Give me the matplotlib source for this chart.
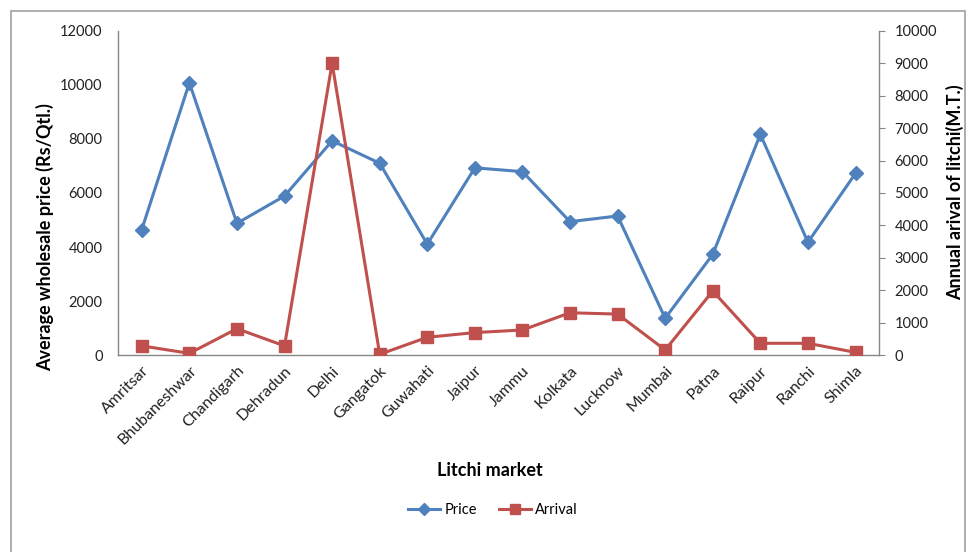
import matplotlib.pyplot as plt
from matplotlib.lines import Line2D
from matplotlib.patches import Rectangle

markets = ["Amritsar", "Bhubaneshwar", "Chandigarh", "Dehradun", "Delhi",
           "Gangatok", "Guwahati", "Jaipur", "Jammu", "Kolkata", "Lucknow",
           "Mumbai", "Patna", "Raipur", "Ranchi", "Shimla"]
price = [4650, 10075, 4880, 5890, 7930, 7100, 4110, 6930,
         6790, 4940, 5150, 1370, 3730, 8170, 4180, 6725]
arrival = [290, 60, 820, 290, 9000, 30, 555, 700,
           780, 1310, 1270, 165, 1980, 370, 370, 90]

left_ticks = [0, 2000, 4000, 6000, 8000, 10000, 12000]
right_ticks = [0, 1000, 2000, 3000, 4000, 5000, 6000, 7000, 8000, 9000, 10000]

BLUE = "#4F81BD"
RED = "#C0504D"
AXIS_GREY = "#868686"

plt.rcParams["font.family"] = ["Lato", "DejaVu Sans"]

W, H = 972, 552
fig = plt.figure(figsize=(W / 100, H / 100), dpi=100)

# outer chart border
fig.patches.append(Rectangle((11 / W, -0.01), (965 - 11) / W, 1 - 11 / H + 0.01,
                             transform=fig.transFigure, fill=False,
                             edgecolor="#A0A0A0", linewidth=1.2))

ax = fig.add_axes([118 / W, 1 - 355.3 / H, (879.3 - 118) / W, (355.3 - 30.7) / H])
ax2 = ax.twinx()

x = range(len(markets))
ax.plot(x, price, color=BLUE, lw=2.2, marker="D", ms=7.5, zorder=3)
ax2.plot(x, arrival, color=RED, lw=2.2, marker="s", ms=8, zorder=3)

ax.set_xlim(-0.5, len(markets) - 0.5)
ax.set_ylim(0, 12000)
ax2.set_ylim(0, 10000)
ax.set_yticks(left_ticks)
ax2.set_yticks(right_ticks)
ax.set_xticks(list(x))
ax.set_xticklabels(markets, rotation=45, ha="right", rotation_mode="anchor",
                   fontsize=11.5, color="#222222")

for a in (ax, ax2):
    for s in a.spines.values():
        s.set_color(AXIS_GREY)
        s.set_linewidth(1)
    a.spines["top"].set_visible(False)
ax.spines["right"].set_visible(False)
ax2.spines["left"].set_visible(False)
ax2.spines["bottom"].set_visible(False)

ax.tick_params(axis="y", length=0, labelsize=10.5, labelcolor="#222222", pad=11)
ax2.tick_params(axis="y", direction="out", length=4, color=AXIS_GREY,
                labelsize=10.5, labelcolor="#222222", pad=7)
ax.tick_params(axis="x", length=0, pad=6)

fig.text(45 / W, 1 - 237 / H, "Average wholesale price (Rs/Qtl.)", rotation=90,
         ha="center", va="center", fontsize=13, fontweight="bold")
fig.text(955 / W, 1 - 192 / H, "Annual arival of litchi(M.T.)", rotation=90,
         ha="center", va="center", fontsize=13, fontweight="bold")
fig.text(490 / W, 1 - 470 / H, "Litchi market", ha="center", va="center",
         fontsize=13, fontweight="bold")

handles = [Line2D([], [], color=BLUE, lw=2.2, marker="D", ms=6),
           Line2D([], [], color=RED, lw=2.2, marker="s", ms=7)]
fig.legend(handles, ["Price", "Arrival"], loc="center",
           bbox_to_anchor=(493 / W, 1 - 510 / H), ncol=2, frameon=False,
           fontsize=10.5, handlelength=2.2, handletextpad=0.3, columnspacing=1.5)

plt.savefig("out.png", dpi=100)
